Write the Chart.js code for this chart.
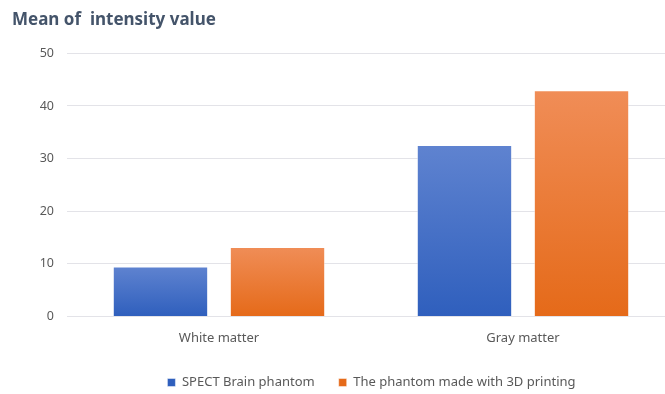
<!DOCTYPE html>
<html>
<head>
<meta charset="utf-8">
<script src="https://cdn.jsdelivr.net/npm/chart.js@4"></script>
<style>
  html, body { margin: 0; padding: 0; background: #fff; overflow: hidden; }
  /* canvas runs a few px past the window on the right and bottom, as the original plot does */
  #wrap { width: 675px; height: 399px; }
</style>
</head>
<body>
<div id="wrap"><canvas id="chart"></canvas></div>
<script>
const categories = ['White matter', 'Gray matter'];
const spectValues = [9.5, 32.6];
const printedValues = [13.2, 43.0];
const seriesNames = ['SPECT Brain phantom', 'The phantom made with 3D printing'];

// each bar gets its own light-top / dark-bottom gradient
function barFill(ctx, top, bottom) {
  const chart = ctx.chart;
  if (!chart.chartArea) return bottom;
  const y = chart.scales.y;
  const base = y.getPixelForValue(0);
  const tip = y.getPixelForValue(ctx.raw);
  const g = chart.ctx.createLinearGradient(0, tip, 0, base);
  g.addColorStop(0, top);
  g.addColorStop(1, bottom);
  return g;
}

// legend in the original sits a bit right of the canvas centre
const legendShift = {
  id: 'legendShift',
  afterLayout(chart) {
    chart.legend.left += 28;
    chart.legend.right += 28;
  }
};

const font = 'Noto Sans';

new Chart(document.getElementById('chart'), {
  type: 'bar',
  data: {
    labels: categories,
    datasets: [
      {
        label: seriesNames[0],
        data: spectValues,
        backgroundColor: (c) => barFill(c, '#5f83d0', '#2f5fbd'),
        borderColor: 'rgba(255,255,255,0.45)',
        borderWidth: 1,
        categoryPercentage: 0.77,
        barPercentage: 0.815
      },
      {
        label: seriesNames[1],
        data: printedValues,
        backgroundColor: (c) => barFill(c, '#f08d57', '#e56a19'),
        borderColor: 'rgba(255,255,255,0.45)',
        borderWidth: 1,
        categoryPercentage: 0.77,
        barPercentage: 0.815
      }
    ]
  },
  options: {
    responsive: true,
    maintainAspectRatio: false,
    animation: false,
    layout: { padding: { left: 12, right: 0, top: 10, bottom: 0 } },
    plugins: {
      title: {
        display: true,
        text: 'Mean of  intensity value',
        align: 'start',
        color: '#44546a',
        font: { family: font, size: 17, weight: 'bold' },
        padding: { top: 0, bottom: 23 }
      },
      legend: {
        position: 'bottom',
        labels: {
          boxWidth: 8,
          boxHeight: 8,
          color: '#595959',
          font: { family: font, size: 13 },
          padding: 24
        }
      },
      tooltip: { enabled: false }
    },
    scales: {
      x: {
        grid: { display: false },
        border: { display: false },
        ticks: { color: '#595959', font: { family: font, size: 13 }, padding: 6 }
      },
      y: {
        min: 0,
        max: 50,
        afterFit(scale) { scale.width = 55; },
        ticks: { stepSize: 10, color: '#595959', font: { family: font, size: 12.5 }, padding: 13 },
        grid: { color: '#e3e3e8', lineWidth: 1, drawTicks: false },
        border: { display: false }
      }
    }
  },
  plugins: [legendShift]
});
</script>
</body>
</html>
